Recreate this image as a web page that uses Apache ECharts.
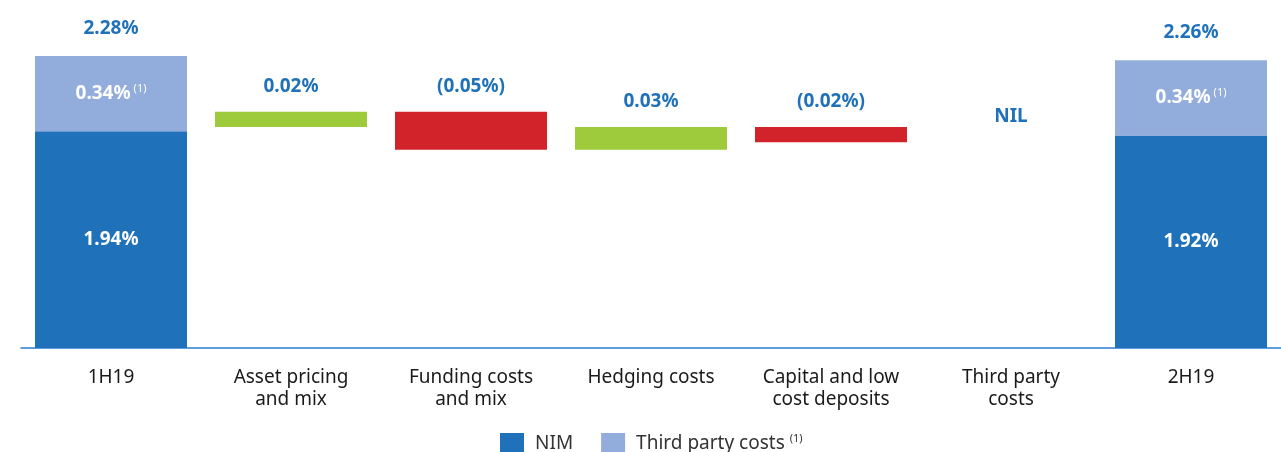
<!DOCTYPE html>
<html>
<head>
<meta charset="utf-8">
<script src="https://cdn.jsdelivr.net/npm/echarts@6/dist/echarts.min.js"></script>
<style>
  html, body { margin: 0; padding: 0; background: #fff; }
  #chart { width: 1281px; height: 452px; }
</style>
</head>
<body>
<div id="chart"></div>
<script>
// categories along the x axis
var categories = ["1H19", "Asset pricing\nand mix", "Funding costs\nand mix", "Hedging costs", "Capital and low\ncost deposits", "Third party\ncosts", "2H19"];
// stacked end bars (1H19, 2H19)
var nimValues = [1.94, 1.92];
var thirdPartyValues = [0.34, 0.34];
var totalValues = [2.28, 2.26];
// movements between the two halves
var changes = [0.02, -0.05, 0.03, -0.02, 0];

var BLUE = "#1f72ba";
var LIGHT = "#92acdb";
var GREEN = "#9dcb3b";
var RED = "#d2232a";
var BOLD_FONT = "'Noto Sans', sans-serif";
var TEXT_FONT = "'Noto Sans', sans-serif";

function pct(v) {
  return v.toFixed(2) + "%";
}

// build the waterfall pieces
var level = nimValues[0];
var baseData = ["-"];
var deltaData = ["-"];
changes.forEach(function (c) {
  if (c >= 0) {
    baseData.push(level);
  } else {
    baseData.push(+(level + c).toFixed(4));
  }
  deltaData.push({
    value: Math.abs(c),
    change: c,
    itemStyle: { color: c >= 0 ? GREEN : RED }
  });
  level = +(level + c).toFixed(4);
});
baseData.push("-");
deltaData.push("-");

var last = categories.length - 1;
function ends(arr) {
  var out = categories.map(function () { return "-"; });
  out[0] = arr[0];
  out[last] = arr[1];
  return out;
}

var myChart = echarts.init(document.getElementById("chart"));
myChart.setOption({
  animation: false,
  textStyle: { fontFamily: TEXT_FONT },
  legend: {
    data: ["NIM", "Third party costs"],
    top: 428,
    left: 495,
    itemWidth: 24,
    itemHeight: 22,
    itemGap: 28,
    icon: "rect",
    formatter: function (name) {
      return name === "NIM" ? name : name + " {sup|(1)}";
    },
    textStyle: {
      fontFamily: TEXT_FONT,
      fontSize: 19,
      color: "#333",
      padding: [0, 0, 0, 6],
      rich: {
        sup: { fontSize: 11, color: "#333", padding: [0, 0, 10, 0] }
      }
    }
  },
  grid: {
    left: 21,
    right: 0,
    top: 5,
    bottom: 104,
    containLabel: false
  },
  xAxis: {
    type: "category",
    data: categories,
    axisTick: { show: false },
    axisLine: { lineStyle: { color: "#2a7fd4", width: 1.5 } },
    axisLabel: {
      interval: 0,
      margin: 19,
      fontSize: 19,
      lineHeight: 22,
      color: "#1a1a1a",
      fontFamily: TEXT_FONT
    }
  },
  yAxis: [
    {
      type: "value",
      min: 0.96,
      max: 2.51,
      show: false,
      splitLine: { show: false }
    },
    {
      type: "value",
      min: 1.65,
      max: 2.1,
      show: false,
      splitLine: { show: false }
    }
  ],
  series: [
    {
      name: "NIM",
      type: "bar",
      stack: "end",
      yAxisIndex: 0,
      barWidth: 152,
      barGap: "-100%",
      itemStyle: { color: BLUE },
      label: {
        show: true,
        position: "inside",
        color: "#fff",
        fontFamily: BOLD_FONT,
        fontWeight: "bold",
        fontSize: 19,
        formatter: function (p) { return pct(p.value); }
      },
      data: ends(nimValues)
    },
    {
      name: "Third party costs",
      type: "bar",
      stack: "end",
      yAxisIndex: 0,
      barWidth: 152,
      barGap: "-100%",
      itemStyle: { color: LIGHT },
      label: {
        show: true,
        position: "inside",
        color: "#fff",
        formatter: function (p) { return "{v|" + pct(p.value) + "}{s|(1)}"; },
        rich: {
          v: { fontFamily: BOLD_FONT, fontWeight: "bold", fontSize: 19, color: "#fff" },
          s: { fontFamily: BOLD_FONT, fontSize: 11, color: "#fff", padding: [0, 0, 10, 3] }
        }
      },
      data: ends(thirdPartyValues)
    },
    {
      name: "Total",
      type: "scatter",
      yAxisIndex: 0,
      symbolSize: 0,
      itemStyle: { opacity: 1 },
      label: {
        show: true,
        position: "top",
        distance: 18,
        color: BLUE,
        fontFamily: BOLD_FONT,
        fontWeight: "bold",
        fontSize: 19,
        formatter: function (p) { return pct(p.value); }
      },
      data: ends(totalValues)
    },
    {
      name: "base",
      type: "bar",
      stack: "walk",
      yAxisIndex: 1,
      barWidth: 152,
      barGap: "-100%",
      itemStyle: { color: "transparent" },
      silent: true,
      data: baseData
    },
    {
      name: "change",
      type: "bar",
      stack: "walk",
      yAxisIndex: 1,
      barWidth: 152,
      barGap: "-100%",
      label: {
        show: true,
        position: "top",
        distance: 16,
        color: BLUE,
        fontFamily: BOLD_FONT,
        fontWeight: "bold",
        fontSize: 19,
        formatter: function (p) {
          var c = p.data.change;
          if (c === 0) return "NIL";
          return c < 0 ? "(" + pct(-c) + ")" : pct(c);
        }
      },
      data: deltaData
    }
  ]
});
</script>
</body>
</html>
